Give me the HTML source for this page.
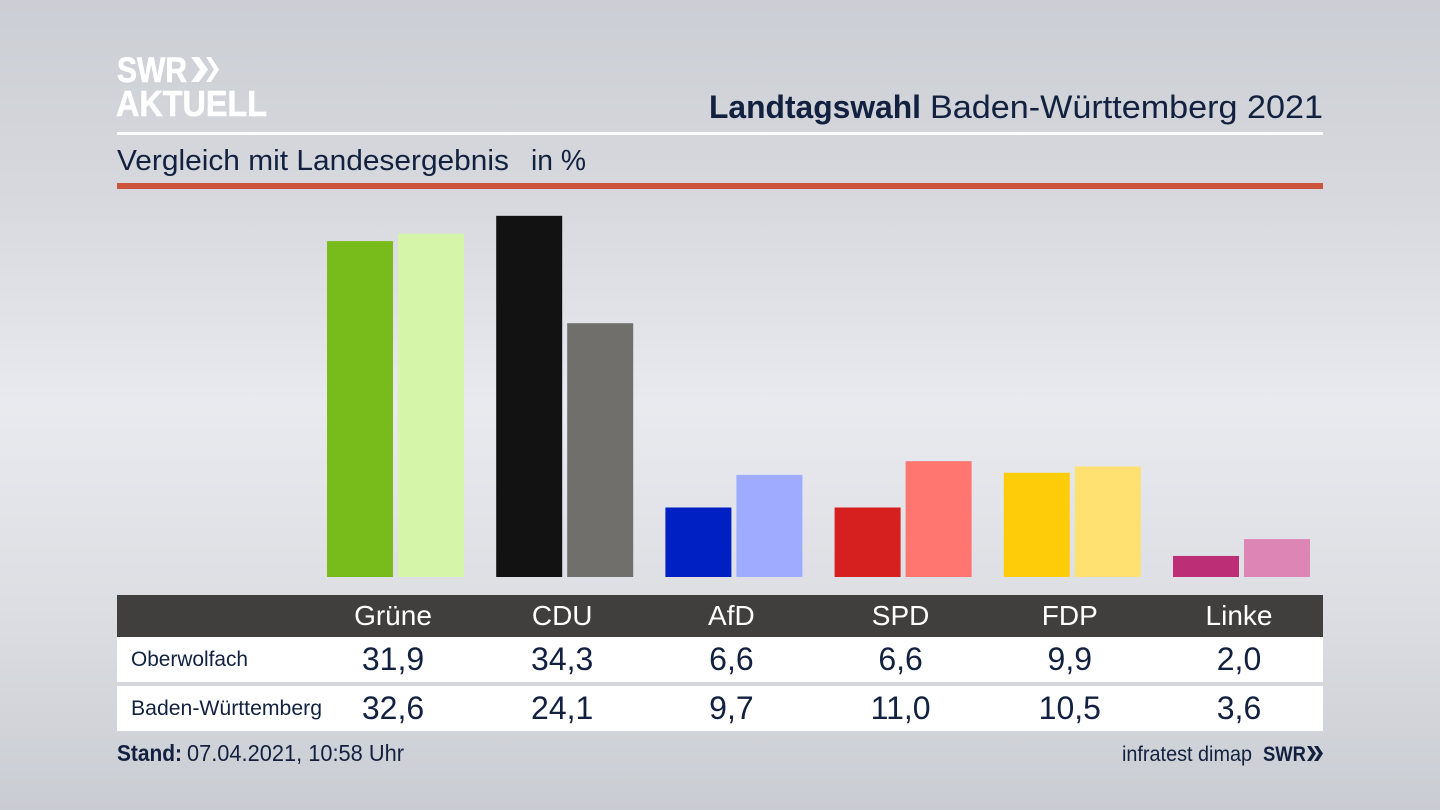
<!DOCTYPE html>
<html lang="de">
<head>
<meta charset="utf-8">
<title>Landtagswahl Baden-Württemberg 2021</title>
<style>
html,body{margin:0;padding:0;width:1440px;height:810px;overflow:hidden;background:#d5d7dc}
svg{display:block;font-family:"Liberation Sans",sans-serif}
</style>
</head>
<body>
<svg id="chart" xmlns="http://www.w3.org/2000/svg" width="1440" height="810" viewBox="0 0 1440 810">
  <defs>
    <linearGradient id="bg" x1="0" y1="0" x2="0" y2="1">
      <stop offset="0" stop-color="#cbced4"/>
      <stop offset="0.25" stop-color="#d7d9de"/>
      <stop offset="0.5" stop-color="#e9eaef"/>
      <stop offset="0.75" stop-color="#dcdee3"/>
      <stop offset="1" stop-color="#c9ccd2"/>
    </linearGradient>
  </defs>
  <rect width="1440" height="810" fill="url(#bg)"/>

  <g fill="#fff">
    <text x="117" y="82" font-size="35" font-weight="700" textLength="70" lengthAdjust="spacingAndGlyphs" stroke="#fff" stroke-width="0.6">SWR</text>
    <path d="M191 57h8l9 12.500-9 12.500h-8l9-12.500zM206 57h5l8 12.500-8 12.500h-5l8-12.500z"/>
    <text x="116" y="116" font-size="36" font-weight="700" textLength="151" lengthAdjust="spacingAndGlyphs" stroke="#fff" stroke-width="0.6">AKTUELL</text>
  </g>

  <text x="709" y="118" font-size="32" font-weight="700" fill="#11213f" textLength="212" lengthAdjust="spacingAndGlyphs">Landtagswahl</text>
  <text x="930" y="118" font-size="32" fill="#11213f" textLength="393" lengthAdjust="spacingAndGlyphs">Baden-Württemberg 2021</text>
  <rect x="117" y="132" width="1206" height="3" fill="#fff"/>

  <text x="117" y="170" font-size="29" fill="#11213f" textLength="392" lengthAdjust="spacingAndGlyphs">Vergleich mit Landesergebnis</text>
  <text x="531" y="170" font-size="29" fill="#11213f" textLength="55" lengthAdjust="spacingAndGlyphs">in %</text>
  <rect x="117" y="183" width="1206" height="6" fill="#cc543a"/>

  <g id="bars"></g>

  <rect x="117" y="595" width="1206" height="42" fill="#403f3e"/>
  <rect x="117" y="637" width="1206" height="45" fill="#fff"/>
  <rect x="117" y="686" width="1206" height="45" fill="#fff"/>
  <text x="131" y="666" font-size="21" fill="#11213f" textLength="117" lengthAdjust="spacingAndGlyphs">Oberwolfach</text>
  <text x="131" y="715" font-size="21" fill="#11213f" textLength="191" lengthAdjust="spacingAndGlyphs">Baden-Württemberg</text>
  <g id="table"></g>

  <text x="117" y="761" font-size="23" font-weight="700" fill="#11213f" textLength="65" lengthAdjust="spacingAndGlyphs">Stand:</text>
  <text x="187" y="761" font-size="23" fill="#11213f" textLength="217" lengthAdjust="spacingAndGlyphs">07.04.2021, 10:58 Uhr</text>
  <text x="1122" y="761" font-size="21" fill="#11213f" textLength="130" lengthAdjust="spacingAndGlyphs">infratest dimap</text>
  <text x="1263" y="761" font-size="21" font-weight="700" fill="#11213f" textLength="43" lengthAdjust="spacingAndGlyphs">SWR</text>
  <path fill="#11213f" d="M1307 746h4l5 7.500-5 7.500h-4l5-7.500zM1314 746h4l5 7.500-5 7.500h-4l5-7.500z"/>
</svg>
<script>
const parties = ["Grüne", "CDU", "AfD", "SPD", "FDP", "Linke"];
const localValues = [31.9, 34.3, 6.6, 6.6, 9.9, 2.0];
const stateValues = [32.6, 24.1, 9.7, 11.0, 10.5, 3.6];
const localColors = ["#78bc1b", "#121212", "#0020c4", "#d61f1f", "#ffcc0a", "#bc2f76"];
const stateColors = ["#d5f5a8", "#716f6c", "#9eabff", "#ff7570", "#ffe171", "#dd85b4"];

const SVG_NS = "http://www.w3.org/2000/svg";
const baseline = 577;
const pxPerUnit = 10.53;
const groupStart = 327;
const groupStep = 169.2;
const barWidth = 66;
const barOffset = 71;
const labelStart = 393;

function yScale(v) { return baseline - v * pxPerUnit; }
function groupX(i) { return groupStart + i * groupStep; }
function labelX(i) { return labelStart + i * groupStep; }
function formatValue(v) { return v.toFixed(1).replace(".", ","); }

const barsLayer = document.getElementById("bars");
const tableLayer = document.getElementById("table");

function addBar(x, v, color) {
  const r = document.createElementNS(SVG_NS, "rect");
  r.setAttribute("x", x);
  r.setAttribute("y", yScale(v));
  r.setAttribute("width", barWidth);
  r.setAttribute("height", baseline - yScale(v));
  r.setAttribute("fill", color);
  
  
  barsLayer.appendChild(r);
}

function addText(str, x, y, size, color) {
  const t = document.createElementNS(SVG_NS, "text");
  t.setAttribute("x", x);
  t.setAttribute("y", y);
  t.setAttribute("font-size", size);
  t.setAttribute("fill", color);
  t.setAttribute("text-anchor", "middle");
  t.textContent = str;
  
  
  tableLayer.appendChild(t);
}

parties.forEach(function (party, i) {
  addBar(groupX(i), localValues[i], localColors[i]);
  addBar(groupX(i) + barOffset, stateValues[i], stateColors[i]);
  addText(party, labelX(i), 625, 28, "#ffffff");
  addText(formatValue(localValues[i]), labelX(i), 670, 32, "#11213f");
  addText(formatValue(stateValues[i]), labelX(i), 719, 32, "#11213f");
});
</script>
</body>
</html>
